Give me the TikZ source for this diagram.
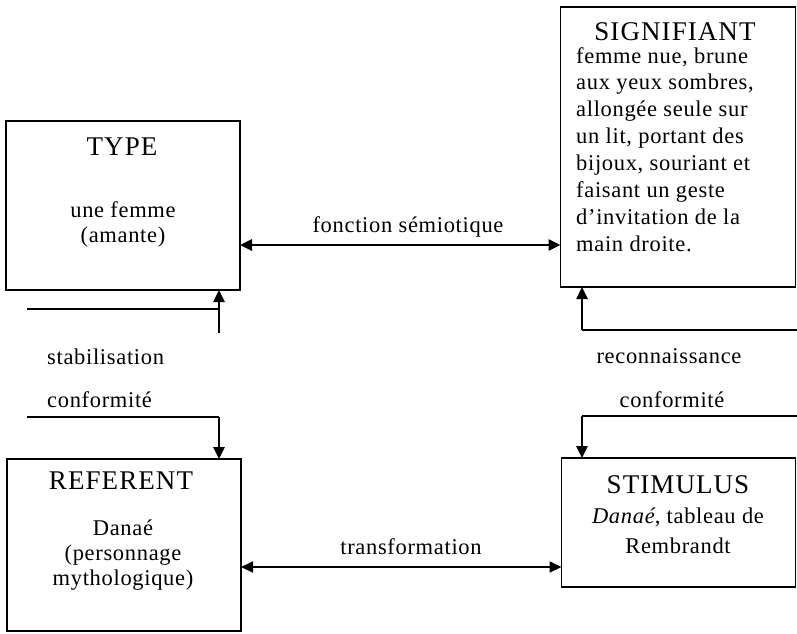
\documentclass[tikz,border=0pt]{standalone}
\usepackage{fontspec}
\setmainfont[LetterSpace=3]{Liberation Serif}
\newfontfamily\titlefont[LetterSpace=4]{Liberation Serif}
\usetikzlibrary{arrows.meta}
\tikzset{
  box/.style={draw, line width=1.5pt, inner sep=0pt, outer sep=0pt},
  ttl/.style={font=\titlefont\fontsize{27}{29}\selectfont, inner sep=0pt},
  body/.style={font=\fontsize{22.5}{25}\selectfont, inner sep=0pt, align=center},
  lbl/.style={font=\fontsize{22.5}{25}\selectfont, inner sep=0pt},
  tip/.tip={Triangle[length=12pt,width=11pt]},
  mainarrow/.style={line width=2.8pt, tip-tip, shorten <=0pt, shorten >=0pt},
  feedarrow/.style={line width=2.5pt, -tip},
  feedline/.style={line width=1.5pt},
}
\begin{document}
\begin{tikzpicture}[x=1pt,y=-1pt]
\useasboundingbox (0,0) rectangle (797,633);
% boxes
\node[box, minimum width=234pt, minimum height=169pt] (type) at (123,205.5) {};
\node[box, minimum width=235pt, minimum height=280pt] (sig) at (678,147) {};
\node[box, minimum width=234pt, minimum height=172pt] (ref) at (124,545) {};
\node[box, minimum width=234pt, minimum height=129pt] (stim) at (678.5,522.5) {};
% titles
\node[ttl] (typet) at (122,147) {TYPE};
\node[ttl] (sigt) at (675,32) {SIGNIFIANT};
\node[ttl] (reft) at (121,481) {REFERENT};
\node[ttl] (stimt) at (678,485) {STIMULUS};
% contents
\node[body] (typeb) at (123,224.5) {une femme\\(amante)};
\node[body, font=\fontsize{22.5}{26.9}\selectfont, align=left, anchor=north west] (sigb) at (576,47)
 {femme nue, brune\\aux yeux sombres,\\allongée seule sur\\un lit, portant des\\bijoux, souriant et\\faisant un geste\\d'invitation de la\\main droite.};
\node[body] (refb) at (123,555) {Danaé\\(personnage\\mythologique)};
\node[body, font=\fontsize{22.5}{30}\selectfont] (stimb) at (678,531) {\textit{Danaé}, tableau de\\Rembrandt};
% main arrows
\coordinate (fs) at (400,245);
\draw[mainarrow] (type.east |- fs) -- (sig.west |- fs);
\node[lbl] (fsl) at (408,227) {fonction sémiotique};
\coordinate (tr) at (400,567);
\draw[mainarrow, line width=2pt] (ref.east |- tr) -- (stim.west |- tr);
\node[lbl] (trl) at (411,547) {transformation};
% left feedback
\coordinate (s1) at (219,333);
\coordinate (s0) at (27,309);
\draw[feedarrow] (s1) -- (s1 |- type.south);
\draw[feedline] (s0) -- (s0 -| s1);
\node[lbl, anchor=west] (stl) at (47,357) {stabilisation};
\node[lbl, anchor=west] (col) at (47,400) {conformité};
\coordinate (c0) at (27,417);
\coordinate (c1) at (219,417);
\draw[feedline] (c0) -- (c1);
\draw[feedarrow] (c1) -- (c1 |- ref.north);
% right feedback
\coordinate (r1) at (582,330);
\coordinate (r2) at (797,330);
\draw[feedarrow] (r1) -- (r1 |- sig.south);
\draw[feedline] (r1) -- (r2);
\node[lbl] (rel) at (669,356) {reconnaissance};
\node[lbl] (cor) at (672,400) {conformité};
\coordinate (q1) at (582,416);
\coordinate (q2) at (797,416);
\draw[feedline] (q2) -- (q1);
\draw[feedarrow] (q1) -- (q1 |- stim.north);
\end{tikzpicture}
\end{document}
